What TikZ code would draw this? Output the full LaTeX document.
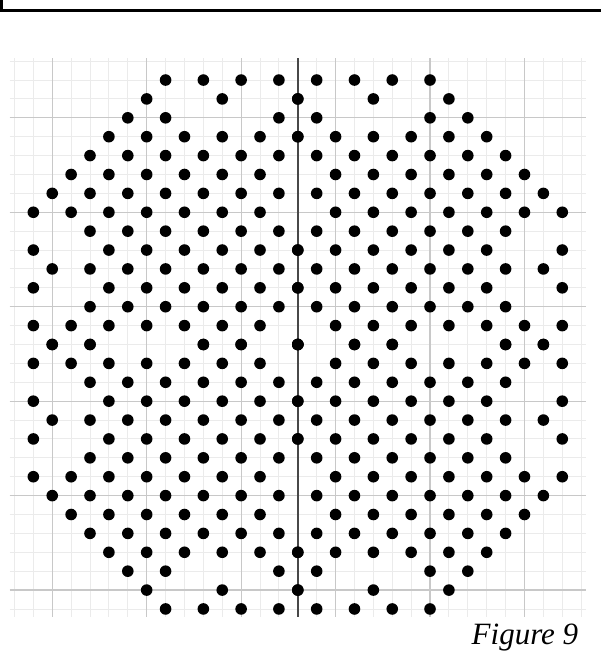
\documentclass[tikz,border=0pt]{standalone}
\usepackage{fontspec}
\setmainfont{Liberation Serif}
\definecolor{minorgrid}{HTML}{EBEBEB}
\definecolor{majorgrid}{HTML}{C8C8C8}
\definecolor{axiscol}{HTML}{484848}
\tikzset{
  minorline/.style={draw=minorgrid, line width=0.9pt},
  majorline/.style={draw=majorgrid, line width=1.2pt},
  axisline/.style={draw=axiscol, line width=2.5pt},
  frameline/.style={draw=black, line width=2.5pt},
  dotmark/.style={fill=black},
  caption/.style={font=\fontsize{31}{36}\selectfont\itshape, inner sep=0pt, anchor=base west}
}
\begin{document}
\begin{tikzpicture}[x=1pt,y=1pt]
\useasboundingbox (0,0) rectangle (601,662);
\fill[white] (0,0) rectangle (601,662);
% frame (top and left)
\draw[frameline] (1.3,662) -- (1.3,651.7) -- (601,651.7);
% grid and dots
\begin{scope}[shift={(297.8,317.5)}, x=18.89pt, y=18.89pt]
  \foreach \i in {-15,...,15} {\draw[minorline] (\i,-14.4) -- (\i,15.15);}
  \foreach \i in {-14,...,15} {\draw[minorline] (-15.25,\i) -- (15.25,\i);}
  \foreach \i in {-13,-8,-3,2,7,12} {
    \draw[majorline] (\i,-14.4) -- (\i,15.15);
    \draw[majorline] (-15.25,\i) -- (15.25,\i);
  }
  \draw[axisline] (0,-14.4) -- (0,15.15);
  \foreach \j/\ms in {14/{1,3,5,7}, 13/{0,4,8}, 12/{1,7,9}, 11/{0,2,4,6,8,10},
      10/{1,3,5,7,9,11}, 9/{2,4,6,8,10,12}, 8/{1,3,5,7,9,11,13},
      7/{2,4,6,8,10,12,14}, 6/{1,3,5,7,9,11}, 5/{0,2,4,6,8,10,14},
      4/{1,3,5,7,9,11,13}, 3/{0,2,4,6,8,10,14}, 2/{1,3,5,7,9,11},
      1/{2,4,6,8,10,12,14}, 0/{0,3,5,11,13}} {
    \foreach \m in \ms {
      \fill[dotmark] (\m,\j) circle[radius=5.8pt];
      \fill[dotmark] (-\m,\j) circle[radius=5.8pt];
      \fill[dotmark] (\m,-\j) circle[radius=5.8pt];
      \fill[dotmark] (-\m,-\j) circle[radius=5.8pt];
    }
  }
\end{scope}
\node[caption] (cap) at (471.5,17) {Figure 9};
\end{tikzpicture}
\end{document}
